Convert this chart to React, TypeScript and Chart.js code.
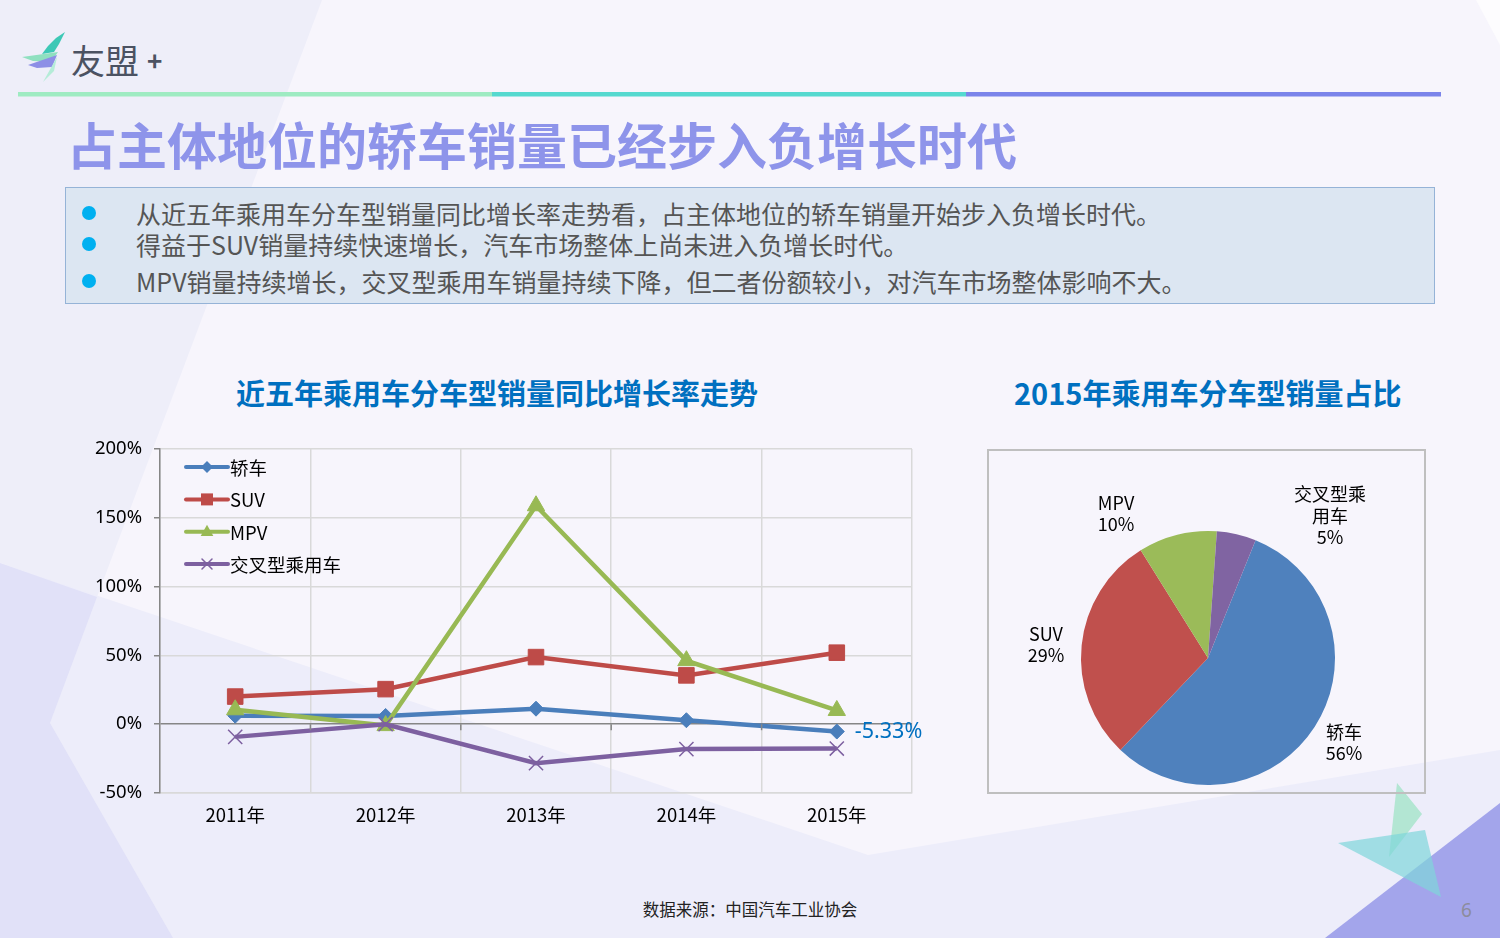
import React, { useEffect, useRef } from "react";
import { Chart, registerables } from "chart.js";

Chart.register(...registerables);

// ---------- data ----------
const years = ["2011年", "2012年", "2013年", "2014年", "2015年"];
const seriesNames = ["轿车", "SUV", "MPV", "交叉型乘用车"];
const sedanGrowth = [6.2, 6.0, 11.3, 2.9, -5.33];
const suvGrowth = [20.1, 25.5, 48.8, 35.5, 52.0];
const mpvGrowth = [10.5, -1.0, 158.8, 46.2, 10.0];
const crossoverGrowth = [-9.2, 0.0, -28.3, -18.1, -17.7];
const yTickMin = -50;
const yTickMax = 200;
const yTickStep = 50;

const pieCategories = ["轿车", "SUV", "MPV", "交叉型乘用车"];
const pieShares = [56, 29, 10, 5];
const pieLabelLines = [["轿车"], ["SUV"], ["MPV"], ["交叉型乘", "用车"]];

const bulletLines = [
  "从近五年乘用车分车型销量同比增长率走势看，占主体地位的轿车销量开始步入负增长时代。",
  "得益于SUV销量持续快速增长，汽车市场整体上尚未进入负增长时代。",
  "MPV销量持续增长，交叉型乘用车销量持续下降，但二者份额较小，对汽车市场整体影响不大。",
];

// ---------- styles ----------
const FONT = '"Noto Sans", "Noto Sans CJK SC", sans-serif';
const CJK = '"Noto Sans CJK SC", "Noto Sans", sans-serif';
const lineColors = ["#4A7EBB", "#BE4B48", "#98B954", "#7D60A0"];
const pieColors = ["#4F81BD", "#C0504D", "#9BBB59", "#8064A2"];
const pointStyles = ["rectRot", "rect", "triangle", "crossRot"];
const pointRadii = [7.5, 11, 10, 10];
const pieLabelFactors = [
  [1.071, 0.665],
  [-1.276, -0.106],
  [-0.724, -1.138],
  [0.961, -1.118],
];

function drawMarker(ctx: CanvasRenderingContext2D, style: string, x: number, y: number, color: string) {
  ctx.save();
  ctx.fillStyle = color;
  ctx.strokeStyle = color;
  ctx.beginPath();
  if (style === "rectRot") {
    const s = 6;
    ctx.moveTo(x, y - s);
    ctx.lineTo(x + s, y);
    ctx.lineTo(x, y + s);
    ctx.lineTo(x - s, y);
    ctx.closePath();
    ctx.fill();
  } else if (style === "rect") {
    const s = 6;
    ctx.rect(x - s, y - s, 2 * s, 2 * s);
    ctx.fill();
  } else if (style === "triangle") {
    const s = 7;
    ctx.moveTo(x, y - s);
    ctx.lineTo(x + s * 0.9, y + s * 0.6);
    ctx.lineTo(x - s * 0.9, y + s * 0.6);
    ctx.closePath();
    ctx.fill();
  } else {
    const s = 5;
    ctx.lineWidth = 1.5;
    ctx.moveTo(x - s, y - s);
    ctx.lineTo(x + s, y + s);
    ctx.moveTo(x + s, y - s);
    ctx.lineTo(x - s, y + s);
    ctx.stroke();
  }
  ctx.restore();
}

const lineExtras = {
  id: "lineExtras",
  afterDatasetsDraw(chart: any) {
    const ctx: CanvasRenderingContext2D = chart.ctx;
    const area = chart.chartArea;
    const yScale = chart.scales.y;
    const xScale = chart.scales.x;
    // small tick marks on the 0% axis at category boundaries
    const y0 = yScale.getPixelForValue(0);
    ctx.save();
    ctx.strokeStyle = "#868686";
    ctx.lineWidth = 1.5;
    for (let i = 1; i < years.length; i++) {
      const xb = (xScale.getPixelForValue(i - 1) + xScale.getPixelForValue(i)) / 2;
      ctx.beginPath();
      ctx.moveTo(xb, y0);
      ctx.lineTo(xb, y0 + 6);
      ctx.stroke();
    }
    ctx.restore();

    // legend inside plot
    ctx.save();
    ctx.font = `18.5px ${CJK}`;
    ctx.textBaseline = "middle";
    seriesNames.forEach((name, i) => {
      const ly = area.top + 18 + i * 32.3;
      const lx = area.left + 26;
      ctx.strokeStyle = lineColors[i];
      ctx.lineWidth = 4;
      ctx.lineCap = "round";
      ctx.beginPath();
      ctx.moveTo(lx, ly);
      ctx.lineTo(lx + 42, ly);
      ctx.stroke();
      drawMarker(ctx, pointStyles[i], lx + 21, ly, lineColors[i]);
      ctx.fillStyle = "#000";
      ctx.fillText(name, lx + 44, ly + 1);
    });
    ctx.restore();

    // last value label of sedan series
    const meta = chart.getDatasetMeta(0);
    const last = meta.data[meta.data.length - 1];
    const v = sedanGrowth[sedanGrowth.length - 1];
    ctx.save();
    ctx.font = `21.5px ${FONT}`;
    ctx.fillStyle = "#0070C0";
    ctx.textBaseline = "middle";
    ctx.fillText(v.toFixed(2) + "%", last.x + 18, last.y);
    ctx.restore();
  },
};

const pieLabels = {
  id: "pieLabels",
  afterDatasetsDraw(chart: any) {
    const ctx: CanvasRenderingContext2D = chart.ctx;
    const meta = chart.getDatasetMeta(0);
    ctx.save();
    ctx.font = `18px ${CJK}`;
    ctx.fillStyle = "#000";
    ctx.textAlign = "center";
    ctx.textBaseline = "middle";
    meta.data.forEach((arc: any, i: number) => {
      const r = arc.outerRadius;
      const cx = arc.x + pieLabelFactors[i][0] * r;
      const cy = arc.y + pieLabelFactors[i][1] * r;
      const lines = [...pieLabelLines[i], pieShares[i] + "%"];
      const lh = 21.5;
      const startY = cy - ((lines.length - 1) * lh) / 2;
      lines.forEach((t, k) => ctx.fillText(t, cx, startY + k * lh));
    });
    ctx.restore();
  },
};

function LineChart() {
  const ref = useRef<HTMLCanvasElement>(null);
  useEffect(() => {
    const series = [sedanGrowth, suvGrowth, mpvGrowth, crossoverGrowth];
    const chart = new Chart(ref.current!, {
      type: "line",
      data: {
        labels: years,
        datasets: series.map((d, i) => ({
          label: seriesNames[i],
          data: d,
          borderColor: lineColors[i],
          backgroundColor: lineColors[i],
          pointBackgroundColor: lineColors[i],
          pointBorderColor: lineColors[i],
          pointBorderWidth: pointStyles[i] === "crossRot" ? 1.5 : 1,
          borderWidth: 4.5,
          pointStyle: pointStyles[i] as any,
          pointRadius: pointRadii[i],
          tension: 0,
          fill: false,
          order: 3 - i,
        })),
      },
      options: {
        responsive: false,
        animation: false,
        layout: { padding: { top: 14, right: 28, left: 0, bottom: 0 } },
        plugins: { legend: { display: false }, tooltip: { enabled: false } },
        scales: {
          x: {
            offset: true,
            grid: { offset: true, color: "#D9D9D9", lineWidth: 1.5, drawTicks: false },
            border: { color: "#D9D9D9", width: 1.5 },
            ticks: { color: "#000", font: { family: CJK, size: 18.5 }, padding: 11 },
            afterFit: (s: any) => {
              s.height = 37;
            },
          },
          y: {
            min: yTickMin,
            max: yTickMax,
            ticks: {
              stepSize: yTickStep,
              color: "#000",
              font: { family: FONT, size: 18.5 },
              padding: 12,
              callback: (v: any) => v + "%",
            },
            grid: {
              color: (c: any) => (c.tick && c.tick.value === 0 ? "#868686" : "#D9D9D9"),
              lineWidth: 1.5,
              tickColor: "#868686",
              tickLength: 6,
            },
            border: { color: "#868686", width: 1.5 },
            afterFit: (s: any) => {
              s.width = 80;
            },
          },
        },
      },
      plugins: [lineExtras],
    });
    return () => chart.destroy();
  }, []);
  return (
    <canvas
      ref={ref}
      width={860}
      height={404}
      style={{ position: "absolute", left: 80, top: 426, width: 860, height: 404 }}
    />
  );
}

function PieChart() {
  const ref = useRef<HTMLCanvasElement>(null);
  useEffect(() => {
    const chart = new Chart(ref.current!, {
      type: "pie",
      data: {
        labels: pieCategories,
        datasets: [
          {
            data: pieShares,
            backgroundColor: pieColors,
            borderWidth: 0,
          },
        ],
      },
      options: {
        responsive: false,
        animation: false,
        rotation: 22,
        layout: { padding: { top: 82, bottom: 8, left: 93, right: 90 } },
        plugins: { legend: { display: false }, tooltip: { enabled: false } },
      },
      plugins: [pieLabels],
    });
    return () => chart.destroy();
  }, []);
  return (
    <canvas
      ref={ref}
      width={437}
      height={344}
      style={{ position: "absolute", left: 988, top: 449, width: 437, height: 344 }}
    />
  );
}

function Background() {
  return (
    <svg width={1500} height={938} style={{ position: "absolute", left: 0, top: 0 }}>
      <rect x={0} y={0} width={1500} height={938} fill="#F7F5FC" />
      <polygon points="0,0 322,0 97,597 0,563" fill="#EEEEF9" />
      <polygon points="0,563 868,855 1500,750 1500,938 0,938" fill="#EDEDFA" />
      <polygon points="0,563 97,597 50,723 173,938 0,938" fill="#E1E1F8" />
      <polygon points="1476,0 1500,0 1500,45" fill="#FDFCFE" />
      <polygon points="1500,803 1500,938 1325,938" fill="#A3A5EB" />
      <polygon points="1397,783 1422,814 1389,857" fill="#9FE3C6" opacity={0.75} />
      <polygon points="1338,843 1425,830 1441,897" fill="#7FD6DA" opacity={0.7} />
      {/* logo */}
      <polygon points="65,32 56,38 48,46 42,54 54,52 59,44" fill="#3DC8B6" />
      <polygon points="22,57 58,52 51,62 33,61" fill="#8FE0C0" />
      <polygon points="28,65 57,55 52,67 37,68" fill="#8D8FE6" />
      <polygon points="43,82 57,57 54,71" fill="#B5ECD8" />
      {/* header rule */}
      <rect x={18} y={92} width={474} height={4.5} fill="#9EEBC2" />
      <rect x={492} y={92} width={474} height={4.5} fill="#55D9CF" />
      <rect x={966} y={92} width={475} height={4.5} fill="#7B84EA" />
    </svg>
  );
}

export default function App() {
  const abs: React.CSSProperties = { position: "absolute", whiteSpace: "nowrap" };
  return (
    <div style={{ position: "absolute", left: 0, top: 0, width: 1500, height: 938, overflow: "hidden", fontFamily: CJK }}>
      <Background />
      <div style={{ ...abs, left: 71, top: 37, fontSize: 34, color: "#4B5262", lineHeight: "46px" }}>友盟</div>
      <div style={{ ...abs, left: 147, top: 42, fontSize: 26, color: "#4B5262", lineHeight: "36px", fontWeight: 700 }}>+</div>
      <div style={{ ...abs, left: 67, top: 111, fontSize: 50, color: "#8E94EA", lineHeight: "64px", fontWeight: 700 }}>
        占主体地位的轿车销量已经步入负增长时代
      </div>
      <div
        style={{
          position: "absolute",
          left: 65,
          top: 187,
          width: 1370,
          height: 117,
          boxSizing: "border-box",
          background: "#DCE6F2",
          border: "1.5px solid #95B3D7",
        }}
      />
      {bulletLines.map((t, i) => {
        const cy = [213, 244, 281][i];
        return (
          <React.Fragment key={i}>
            <div
              style={{
                position: "absolute",
                left: 82,
                top: cy - 7,
                width: 14,
                height: 14,
                borderRadius: 7,
                background: "#00B0F0",
              }}
            />
            <div style={{ ...abs, left: 136, top: cy - 17, fontSize: 25, lineHeight: "34px", color: "#555555" }}>{t}</div>
          </React.Fragment>
        );
      })}
      <div style={{ ...abs, left: 236, top: 372, fontSize: 29, lineHeight: "40px", color: "#0070C0", fontWeight: 700 }}>
        近五年乘用车分车型销量同比增长率走势
      </div>
      <div style={{ ...abs, left: 1014, top: 372, fontSize: 29, lineHeight: "40px", color: "#0070C0", fontWeight: 700 }}>
        2015年乘用车分车型销量占比
      </div>
      <LineChart />
      <div
        style={{
          position: "absolute",
          left: 987,
          top: 449,
          width: 439,
          height: 345,
          boxSizing: "border-box",
          border: "2px solid #BFBFBF",
        }}
      />
      <PieChart />
      <div style={{ ...abs, left: 0, width: 1500, textAlign: "center", top: 897, fontSize: 16.5, lineHeight: "24px", color: "#222" }}>
        数据来源：中国汽车工业协会
      </div>
      <div style={{ ...abs, left: 1461, top: 897, fontSize: 19, lineHeight: "26px", color: "#8C8C9C", fontFamily: FONT }}>6</div>
    </div>
  );
}
